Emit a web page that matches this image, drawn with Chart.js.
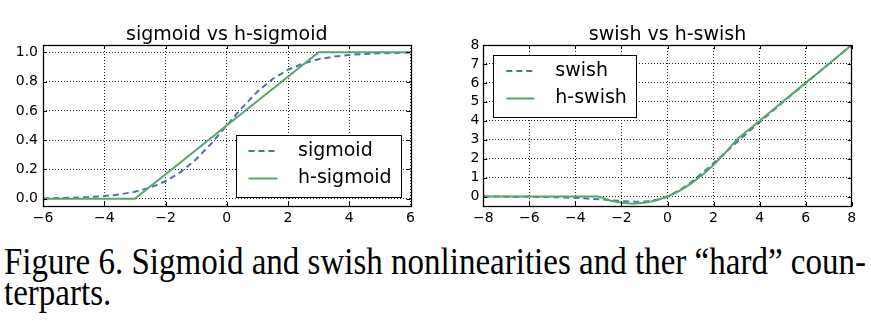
<!DOCTYPE html>
<html>
<head>
<meta charset="utf-8">
<script src="https://cdn.jsdelivr.net/npm/chart.js@4.4.1/dist/chart.umd.min.js"></script>
<style>
  html, body { margin: 0; padding: 0; background: #fff; }
  #page { position: relative; width: 871px; height: 321px; overflow: hidden; }
  #left { position: absolute; left: 0; top: 0; }
  #right { position: absolute; left: 440px; top: 0; }
  #caption { position: absolute; left: 4px; top: 246px; font-family: "Liberation Serif", "Times New Roman", serif;
    font-size: 38px; line-height: 31px; color: #000; white-space: nowrap; }
  #caption div { transform-origin: 0 0; }
</style>
</head>
<body>
<div id="page">
  <canvas id="left" width="430" height="230"></canvas>
  <canvas id="right" width="431" height="230"></canvas>
  <div id="caption">
    <div id="cap1">Figure 6. Sigmoid and swish nonlinearities and ther “hard” coun-</div>
    <div id="cap2">terparts.</div>
  </div>
</div>
<script>
// left panel: sigmoid vs h-sigmoid
const sigX = [-6, -5.5, -5, -4.5, -4, -3.5, -3, -2.5, -2, -1.5, -1, -0.5, 0, 0.5, 1, 1.5, 2, 2.5, 3, 3.5, 4, 4.5, 5, 5.5, 6];
const sigY = [0.002, 0.004, 0.007, 0.011, 0.018, 0.029, 0.047, 0.076, 0.119, 0.182, 0.269, 0.378, 0.5,
              0.622, 0.731, 0.818, 0.881, 0.924, 0.953, 0.971, 0.982, 0.989, 0.993, 0.996, 0.998];
const hsigX = [-6, -3, 3, 6];
const hsigY = [0, 0, 1, 1];
const leftXTicks = [-6, -4, -2, 0, 2, 4, 6];
const leftYTicks = [0, 0.2, 0.4, 0.6, 0.8, 1.0];

// right panel: swish vs h-swish
const swX = [-8, -7.5, -7, -6.5, -6, -5.5, -5, -4.5, -4, -3.5, -3, -2.5, -2, -1.5, -1, -0.5, 0,
             0.5, 1, 1.5, 2, 2.5, 3, 3.5, 4, 4.5, 5, 5.5, 6, 6.5, 7, 7.5, 8];
const swY = [-0.003, -0.004, -0.006, -0.01, -0.015, -0.022, -0.034, -0.049, -0.072, -0.103, -0.142, -0.19, -0.238,
             -0.274, -0.269, -0.189, 0, 0.311, 0.731, 1.226, 1.762, 2.31, 2.858, 3.398, 3.928, 4.451, 4.967,
             5.478, 5.985, 6.49, 6.994, 7.496, 7.997];
const hswY = [0, 0, 0, 0, 0, 0, 0, 0, 0, 0, 0, -0.208, -0.333, -0.375, -0.333, -0.208, 0, 0.292, 0.667,
              1.125, 1.667, 2.292, 3, 3.5, 4, 4.5, 5, 5.5, 6, 6.5, 7, 7.5, 8];
const rightXTicks = [-8, -6, -4, -2, 0, 2, 4, 6, 8];
const rightYTicks = [0, 1, 2, 3, 4, 5, 6, 7, 8];

const BLUE = '#4c72b0';
const GREEN = '#55a868';
const FONT = 'DejaVu Sans';

const pts = (xs, ys) => xs.map((x, i) => ({ x: x, y: ys[i] }));
const fmtMinus = s => s.replace('-', '\u2212');

// frame + inward tick marks, like the old matplotlib style
const frameTicks = {
  id: 'frameTicks',
  afterDatasetsDraw(chart) {
    const { ctx, chartArea: a, scales: { x, y } } = chart;
    ctx.save();
    ctx.strokeStyle = '#000';
    ctx.lineWidth = 1;
    ctx.beginPath();
    x.ticks.forEach(t => {
      const px = Math.round(x.getPixelForValue(t.value)) + 0.5;
      ctx.moveTo(px, a.bottom); ctx.lineTo(px, a.bottom - 4);
      ctx.moveTo(px, a.top); ctx.lineTo(px, a.top + 4);
    });
    y.ticks.forEach(t => {
      const py = Math.round(y.getPixelForValue(t.value)) + 0.5;
      ctx.moveTo(a.left, py); ctx.lineTo(a.left + 4, py);
      ctx.moveTo(a.right, py); ctx.lineTo(a.right - 4, py);
    });
    ctx.stroke();
    ctx.lineWidth = 1.3;
    ctx.strokeRect(Math.round(a.left) + 0.5, Math.round(a.top) + 0.5,
                   Math.round(a.right - a.left), Math.round(a.bottom - a.top));
    ctx.restore();
  }
};

// legend box drawn inside the plot area
const boxLegend = {
  id: 'boxLegend',
  afterDraw(chart, args, o) {
    const { ctx, chartArea: a } = chart;
    const x0 = o.corner === 'br' ? a.right - o.inset - o.w : a.left + o.inset;
    const y0 = o.corner === 'br' ? a.bottom - o.inset - o.h : a.top + o.inset;
    ctx.save();
    ctx.fillStyle = '#fff';
    ctx.fillRect(x0, y0, o.w, o.h);
    ctx.strokeStyle = '#000';
    ctx.lineWidth = 1;
    ctx.strokeRect(Math.round(x0) + 0.5, Math.round(y0) + 0.5, o.w, o.h);
    ctx.font = '19px "' + FONT + '"';
    ctx.textBaseline = 'middle';
    chart.data.datasets.forEach((ds, i) => {
      const cy = y0 + o.rowTop + i * o.rowGap;
      ctx.setLineDash(ds.borderDash || []);
      ctx.strokeStyle = ds.borderColor;
      ctx.lineWidth = ds.borderWidth;
      ctx.beginPath();
      ctx.moveTo(x0 + o.lineX, cy);
      ctx.lineTo(x0 + o.lineX + o.lineLen, cy);
      ctx.stroke();
      ctx.setLineDash([]);
      ctx.fillStyle = '#000';
      ctx.fillText(ds.label, x0 + o.textX, cy);
    });
    ctx.restore();
  }
};

function makeChart(id, cfg) {
  const tickFont = { family: FONT, size: 14 };
  return new Chart(document.getElementById(id), {
    type: 'line',
    plugins: [frameTicks, boxLegend],
    data: { datasets: cfg.datasets },
    options: {
      responsive: false,
      animation: false,
      layout: { padding: { left: 0, right: cfg.padRight, top: 0, bottom: 0 } },
      elements: { point: { radius: 0 }, line: { tension: 0 } },
      plugins: {
        legend: { display: false },
        tooltip: { enabled: false },
        title: {
          display: true, text: cfg.title, color: '#000', fullSize: false,
          font: { family: FONT, size: 19, weight: 'normal', lineHeight: 1 },
          padding: { top: 26, bottom: 0 }
        },
        boxLegend: cfg.legend
      },
      scales: {
        x: {
          type: 'linear', min: cfg.xMin, max: cfg.xMax,
          afterBuildTicks: s => { s.ticks = cfg.xTicks.map(v => ({ value: v })); },
          afterFit: s => { s.height = 24; },
          grid: { color: '#222', lineWidth: 1, drawTicks: false },
          border: { display: false, dash: [1, 2] },
          ticks: { color: '#000', font: tickFont, padding: 4, maxRotation: 0,
                   callback: v => fmtMinus(String(v)) }
        },
        y: {
          type: 'linear', min: cfg.yMin, max: cfg.yMax,
          afterBuildTicks: s => { s.ticks = cfg.yTicks.map(v => ({ value: v })); },
          afterFit: s => { s.width = cfg.yWidth; },
          grid: { color: '#222', lineWidth: 1, drawTicks: false },
          border: { display: false, dash: [1, 2] },
          ticks: { color: '#000', font: tickFont, padding: cfg.yPad,
                   callback: v => fmtMinus(cfg.yFmt(v)) }
        }
      }
    }
  });
}

makeChart('left', {
  title: 'sigmoid vs h-sigmoid',
  datasets: [
    { label: 'sigmoid', data: pts(sigX, sigY), borderColor: BLUE, borderWidth: 2, borderDash: [6, 4], order: 1 },
    { label: 'h-sigmoid', data: pts(hsigX, hsigY), borderColor: GREEN, borderWidth: 2, order: 0 }
  ],
  xMin: -6, xMax: 6, yMin: -0.05, yMax: 1.05,
  xTicks: leftXTicks, yTicks: leftYTicks,
  yFmt: v => v.toFixed(1), yWidth: 43, yPad: 5, padRight: 19.5,
  legend: { corner: 'br', inset: 9.5, w: 165, h: 62, lineX: 12.5, lineLen: 29, textX: 62, rowTop: 16.5, rowGap: 27.5 }
});

makeChart('right', {
  title: 'swish vs h-swish',
  datasets: [
    { label: 'swish', data: pts(swX, swY), borderColor: BLUE, borderWidth: 2, borderDash: [6, 4], order: 1 },
    { label: 'h-swish', data: pts(swX, hswY), borderColor: GREEN, borderWidth: 2, order: 0 }
  ],
  xMin: -8, xMax: 8, yMin: -0.5, yMax: 8,
  xTicks: rightXTicks, yTicks: rightYTicks,
  yFmt: v => String(v), yWidth: 43.3, yPad: 4, padRight: 19.3,
  legend: { corner: 'tl', inset: 9.5, w: 143, h: 62, lineX: 13.5, lineLen: 28, textX: 62.5, rowTop: 16.5, rowGap: 27.5 }
});

// squeeze the caption lines to the column width of the figure
const cap1 = document.getElementById('cap1');
const cap2 = document.getElementById('cap2');
const meas = document.createElement('canvas').getContext('2d');
meas.font = '38px "Liberation Serif"';
const sx = 862 / meas.measureText(cap1.textContent).width;
cap1.style.transform = 'scaleX(' + sx + ')';
cap2.style.transform = 'scaleX(' + sx + ')';
</script>
</body>
</html>
